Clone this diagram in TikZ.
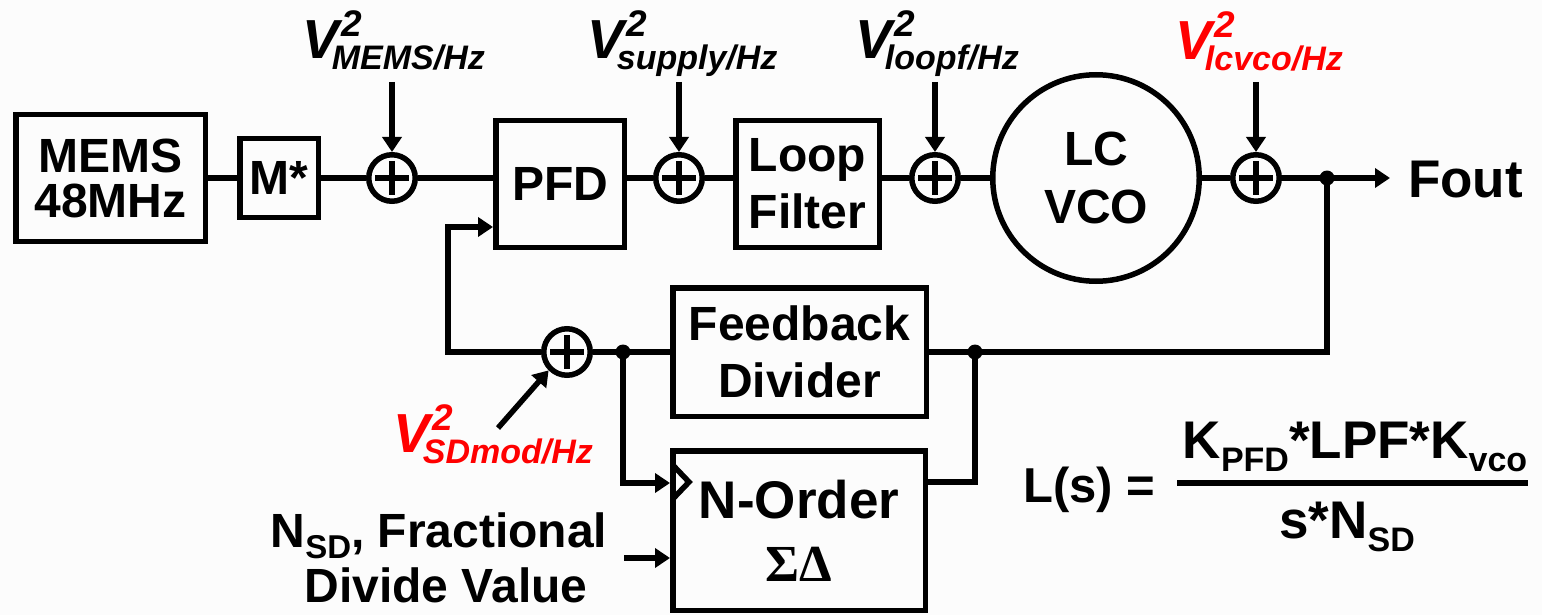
\documentclass[tikz,border=0pt]{standalone}
\usepackage{fontspec}
\setmainfont{Liberation Sans}
\newfontfamily\grfont{Liberation Serif}
\usetikzlibrary{arrows.meta,calc}
\definecolor{nred}{RGB}{255,0,0}
\definecolor{bgc}{RGB}{252,252,252}
\newcommand\fsz[1]{\fontsize{#1}{#1}\selectfont}
\newcommand\noiselbl[1]{{\fsz{55}V}\rlap{\hspace{3pt}\raisebox{22pt}{\fsz{37}2}}\hspace{-7pt}\raisebox{-11pt}{\fsz{34}#1}}
\tikzset{
  lw/.style={line width=5.5pt},
  blk/.style={draw, lw, inner sep=0pt, align=center, font=\fontsize{48}{57}\selectfont\bfseries},
  sumc/.style={circle, draw, lw, minimum size=46.5pt, inner sep=0pt},
  dotc/.style={circle, fill, minimum size=15pt, inner sep=0pt},
  arr/.style={lw, -{Triangle[length=15pt,width=19pt]}},
  wire/.style={lw},
  nlbl/.style={anchor=base west, inner sep=0pt, font=\bfseries\itshape},
  txt/.style={inner sep=0pt, font=\bfseries},
}
\begin{document}
\begin{tikzpicture}[x=1pt,y=-1pt]
\fill[bgc] (0,0) rectangle (1542,615);
\useasboundingbox (0,0) rectangle (1542,615);

% top row
\node[blk, minimum width=189.5pt, minimum height=126.5pt, font=\fontsize{48}{45}\selectfont\bfseries] (mems) at (110.5,178) {MEMS\\48MHz};
\node[blk, minimum width=78.5pt, minimum height=78.5pt] (mstar) at (279,178) {M*};
\node[sumc] (s1) at (392,178) {};
\node[blk, minimum width=128.5pt, minimum height=126.5pt] (pfd) at (560,184) {PFD};
\node[sumc] (s2) at (679,178) {};
\node[blk, minimum width=143.5pt, minimum height=126.5pt] (lf) at (807.5,184) {Loop\\Filter};
\node[sumc] (s3) at (935,178) {};
\node[blk, circle, minimum size=206.5pt, font=\fontsize{48}{58}\selectfont\bfseries] (vco) at (1096,178) {LC\\VCO};
\node[sumc] (s4) at (1256,178) {};
\node[dotc] (d1) at (1327,178) {};
\coordinate (foutend) at (1390,178);
\node[txt, anchor=base west, font=\fsz{53}\bfseries] (fout) at (1408,197) {Fout};

% bottom blocks
\node[blk, minimum width=253.5pt, minimum height=128.5pt] (fbd) at (799.5,352) {Feedback\\Divider};
\node[blk, minimum width=252.5pt, minimum height=159.5pt, font=\fontsize{53}{63}\selectfont\bfseries] (no) at (799,530.5) {N-Order\\{\grfont\fsz{52}\bfseries ΣΔ}};
\node[sumc] (fbs) at (567,352) {};
\node[dotc] (d2) at (623,352) {};
\node[dotc] (d3) at (975,352) {};

% plus signs
\foreach \n in {s1,s2,s3,s4,fbs}{
  \draw[lw] ($(\n.center)+(-17,0)$) -- ($(\n.center)+(17,0)$);
  \draw[lw] ($(\n.center)+(0,-17)$) -- ($(\n.center)+(0,17)$);
}

% main chain
\draw[wire] (mems.east |- mstar) -- (mstar.west);
\draw[wire] (mstar.east) -- (s1.west);
\draw[wire] (s1.east) -- (s1 -| pfd.west);
\draw[wire] (s2 -| pfd.east) -- (s2.west);
\draw[wire] (s2.east) -- (s2 -| lf.west);
\draw[wire] (s3 -| lf.east) -- (s3.west);
\draw[wire] (s3.east) -- (vco.west);
\draw[wire] (vco.east) -- (s4.west);
\draw[wire] (s4.east) -- (d1.center);
\draw[arr] (d1.center) -- (foutend);

% feedback path
\draw[wire] (d1.center) |- (d3.center) -- (fbd.east);
\draw[wire] (fbd.west) -- (d2.center) -- (fbs.east);
\coordinate (c1) at (448,227);
\draw[arr] (fbs.west) -| (c1) -- (c1 -| pfd.west);
\coordinate (c2) at (623,483);
\draw[arr] (d2.center) -- (c2) -- (c2 -| no.west);
\coordinate (c3) at (975,482);
\draw[wire] (d3.center) -- (c3) -- (c3 -| no.east);
% clock triangle
\draw[lw, line join=miter] (672.75,465) -- (689,482) -- (672.75,499);

% N_SD input
\coordinate (c4) at (624,558);
\draw[arr] (c4) -- (c4 -| no.west);
\node[txt, anchor=base, font=\fsz{48}\bfseries] (nsda) at (439,547) {N\raisebox{-11pt}{\fsz{33}SD}, Fractional};
\node[txt, anchor=base, font=\fsz{48}\bfseries] (nsdb) at (446,602) {Divide Value};

% noise sources
\coordinate (n1) at (392,82);
\coordinate (n2) at (679,82);
\coordinate (n3) at (935,82);
\coordinate (n4) at (1256,82);
\draw[arr] (n1) -- (s1.north);
\draw[arr] (n2) -- (s2.north);
\draw[arr] (n3) -- (s3.north);
\draw[arr] (n4) -- (s4.north);
\node[nlbl] (l1) at (302,59) {\noiselbl{MEMS/Hz}};
\node[nlbl] (l2) at (587,59) {\noiselbl{supply/Hz}};
\node[nlbl] (l3) at (855,59) {\noiselbl{loopf/Hz}};
\node[nlbl, text=nred] (l4) at (1175,60) {\noiselbl{lcvco/Hz}};
\coordinate (n5) at (498,428);
\draw[arr] (n5) -- (fbs.south west);
\node[nlbl, text=nred] (l5) at (393,452) {\noiselbl{SDmod/Hz}};

% formula
\node[txt, anchor=base west, font=\fsz{49}\bfseries] (ls) at (1023,502) {L(s) =};
\coordinate (fr1) at (1177,483);
\coordinate (fr2) at (1528,483);
\draw[line width=5.5pt] (fr1) -- (fr2);
\node[txt, anchor=base, font=\fsz{53}\bfseries] (num) at (1355,458) {K\raisebox{-13pt}{\fsz{34}PFD}*LPF*K\raisebox{-13pt}{\fsz{34}vco}};
\node[txt, anchor=base, font=\fsz{53}\bfseries] (den) at (1347,538) {s*N\raisebox{-13pt}{\fsz{34}SD}};
\end{tikzpicture}
\end{document}
